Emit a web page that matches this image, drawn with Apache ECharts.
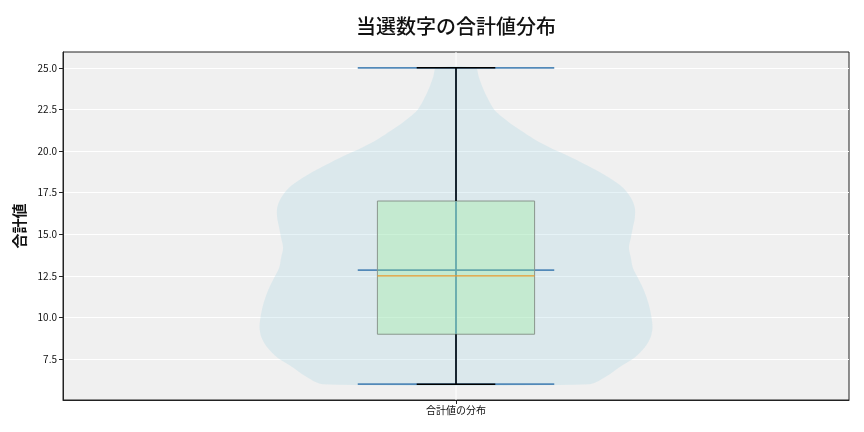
<!DOCTYPE html>
<html>
<head>
<meta charset="utf-8">
<script src="https://cdn.jsdelivr.net/npm/echarts@6/dist/echarts.min.js"></script>
<style>
  html, body { margin: 0; background: #fff; }
  #chart { width: 864px; height: 432px; }
</style>
</head>
<body>
<div id="chart"></div>
<script>
const categories = ['合計値の分布'];
const yTicks = [7.5, 10, 12.5, 15, 17.5, 20, 22.5, 25];

// violin outline: value -> relative half width (1 = widest)
const violinValues = [6, 6.5, 7, 7.6, 8.2, 8.8, 9.4, 10, 10.6, 11.2, 11.8, 12.4, 13, 13.6, 14.2, 14.8,
  15.4, 16, 16.6, 17.2, 17.8, 18.4, 19, 19.6, 20, 20.5, 21, 21.5, 22, 22.5, 23.2, 23.9, 24.5, 25];
const violinDensity = [0.68, 0.77, 0.83, 0.91, 0.96, 0.99, 1.0, 0.995, 0.985, 0.97, 0.95, 0.925, 0.9, 0.89, 0.88, 0.89,
  0.9, 0.91, 0.91, 0.89, 0.85, 0.78, 0.69, 0.59, 0.515, 0.43, 0.36, 0.296, 0.24, 0.194, 0.16, 0.133, 0.115, 0.1];

// min, q1, median, q3, max
const boxStats = [6, 9, 12.5, 17, 25];
const meanValue = 12.85;

const FONT = '"Noto Sans CJK JP", "Noto Sans", sans-serif';
const chart = echarts.init(document.getElementById('chart'));

function hLine(api, v, half, style) {
  const c = api.coord([0, v]);
  return { type: 'line', shape: { x1: c[0] - half, y1: c[1], x2: c[0] + half, y2: c[1] }, style };
}

function vLine(api, v1, v2, style) {
  const a = api.coord([0, v1]);
  const b = api.coord([0, v2]);
  return { type: 'line', shape: { x1: a[0], y1: a[1], x2: b[0], y2: b[1] }, style };
}

function renderViolin(params, api) {
  const band = api.size([1, 0])[0];
  const cx = api.coord([0, 0])[0];
  const sys = params.coordSys;
  const right = [], left = [];
  violinValues.forEach((v, i) => {
    const y = api.coord([0, v])[1];
    const w = band * 0.25 * violinDensity[i];
    right.push([cx + w, y]);
    left.unshift([cx - w, y]);
  });
  const blue = { stroke: '#5289b8', lineWidth: 1.8 };
  const black = { stroke: '#000', lineWidth: 1.5 };
  const [mn, q1, med, q3, mx] = boxStats;
  const q1c = api.coord([0, q1]);
  const q3c = api.coord([0, q3]);
  const boxHalf = band * 0.1;
  return {
    type: 'group',
    children: [
      // category grid line
      { type: 'line', shape: { x1: cx, y1: sys.y, x2: cx, y2: sys.y + sys.height }, style: { stroke: '#fff', lineWidth: 1 } },
      { type: 'polygon', shape: { points: right.concat(left), smooth: 0.3 }, style: { fill: 'rgba(173,216,230,0.3)' } },
      vLine(api, mn, mx, blue),
      hLine(api, mn, band * 0.125, blue),
      hLine(api, mx, band * 0.125, blue),
      hLine(api, meanValue, band * 0.125, blue),
      {
        type: 'rect',
        shape: { x: q1c[0] - boxHalf, y: q3c[1], width: boxHalf * 2, height: q1c[1] - q3c[1] },
        style: { fill: 'rgba(144,238,144,0.3)', stroke: '#8a968d', lineWidth: 1 }
      },
      hLine(api, med, boxHalf, { stroke: '#e8982e', lineWidth: 1.2 }),
      vLine(api, q3, mx, black),
      vLine(api, q1, mn, black),
      hLine(api, mx, band * 0.05, black),
      hLine(api, mn, band * 0.05, black)
    ]
  };
}

chart.setOption({
  animation: false,
  backgroundColor: '#fff',
  title: {
    text: '当選数字の合計値分布',
    left: 451,
    top: 11,
    textAlign: 'center',
    textStyle: { fontFamily: FONT, fontSize: 20, fontWeight: 500, color: '#111' }
  },
  grid: {
    left: 63, right: 15, top: 52, bottom: 32,
    show: true, backgroundColor: '#f0f0f0', borderColor: '#222', borderWidth: 1
  },
  xAxis: {
    type: 'category',
    data: categories,
    axisLine: { show: true, lineStyle: { color: '#222' } },
    axisTick: { show: true, alignWithLabel: true, length: 4, lineStyle: { color: '#222' } },
    axisLabel: { fontFamily: FONT, fontSize: 10, color: '#111', margin: 5 },
    splitLine: { show: false }
  },
  yAxis: {
    type: 'value',
    min: 5.05,
    max: 25.95,
    name: '合計値',
    nameLocation: 'middle',
    nameGap: 35,
    nameRotate: 90,
    nameTextStyle: { fontFamily: FONT, fontSize: 15, fontWeight: 'bold', color: '#111' },
    axisLine: { show: true, lineStyle: { color: '#222' } },
    axisTick: { show: true, length: 4, customValues: yTicks, lineStyle: { color: '#222' } },
    axisLabel: {
      customValues: yTicks,
      fontFamily: FONT, fontSize: 10, color: '#111', margin: 6,
      formatter: v => v.toFixed(1)
    },
    splitLine: { show: true, lineStyle: { color: '#fff', width: 1 } }
  },
  series: [
    {
      type: 'custom',
      clip: false,
      renderItem: renderViolin,
      data: [[0, boxStats[2]]]
    }
  ]
});
</script>
</body>
</html>
